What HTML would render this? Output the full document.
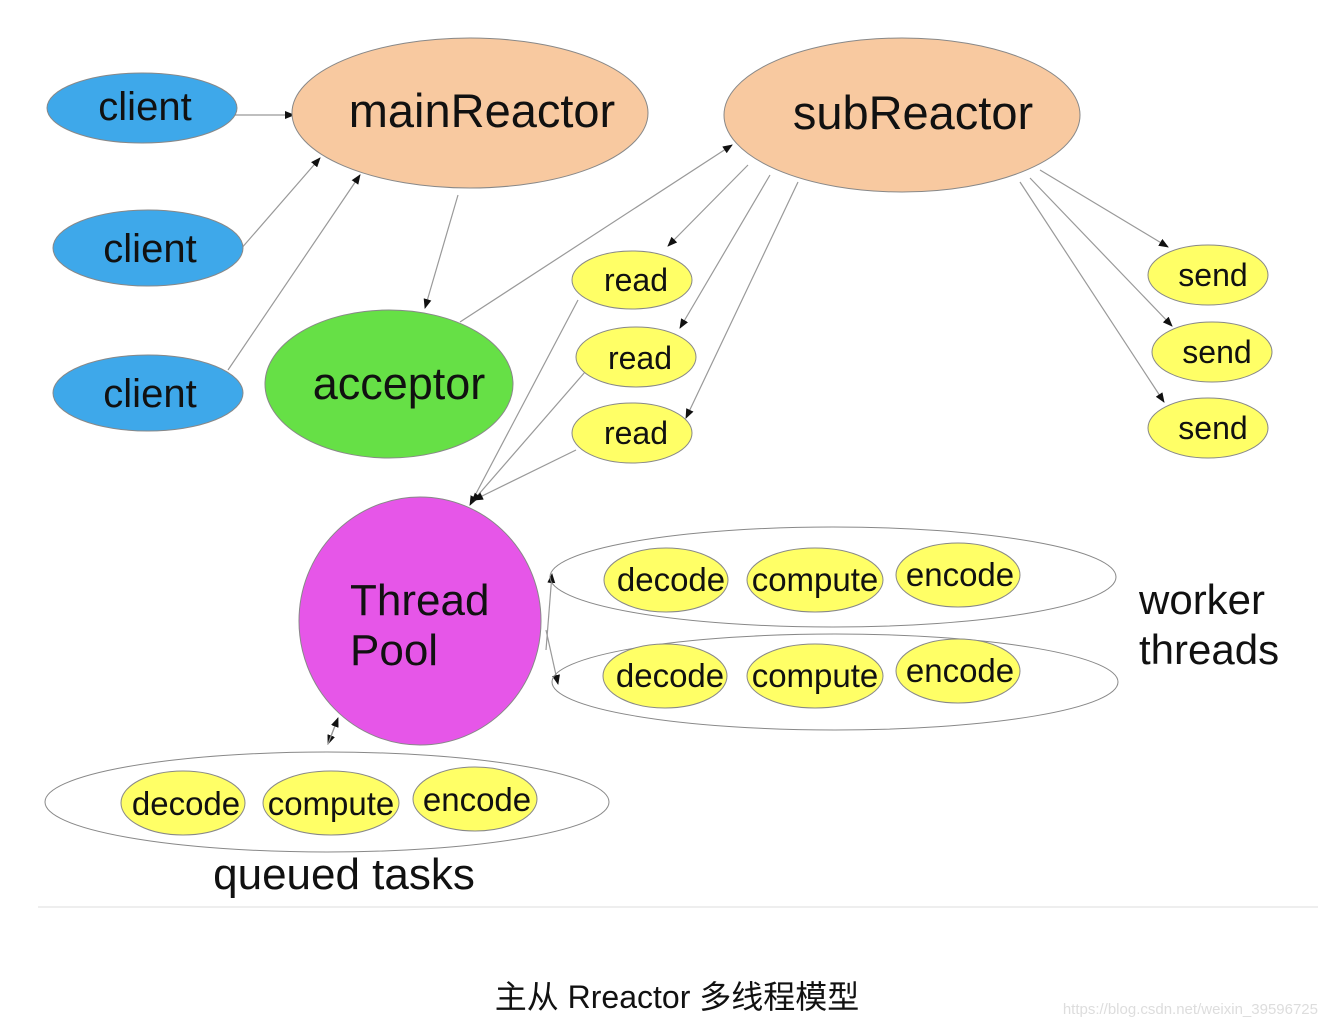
<!DOCTYPE html>
<html><head><meta charset="utf-8"><style>
html,body{margin:0;padding:0;background:#fff;}
svg{display:block;}
text{font-family:"Liberation Sans","DejaVu Sans",sans-serif;fill:#111;}
</style></head><body>
<svg width="1326" height="1026" viewBox="0 0 1326 1026" xmlns="http://www.w3.org/2000/svg">
<defs><marker id="a" markerWidth="10" markerHeight="8" refX="9" refY="4" orient="auto" markerUnits="userSpaceOnUse"><path d="M0,0 L10,4 L0,8 z" fill="#111"/></marker></defs>
<g stroke="#999" stroke-width="1.2" fill="none" marker-end="url(#a)">
<line x1="234" y1="115" x2="294" y2="115"/>
<line x1="240" y1="250" x2="320" y2="158"/>
<line x1="228" y1="370" x2="360" y2="175"/>
<line x1="458" y1="195" x2="425" y2="308"/>
<line x1="460" y1="322" x2="732" y2="145"/>
<line x1="748" y1="165" x2="668" y2="246"/>
<line x1="770" y1="175" x2="680" y2="328"/>
<line x1="798" y1="182" x2="686" y2="418"/>
<line x1="1040" y1="170" x2="1168" y2="247"/>
<line x1="1030" y1="178" x2="1172" y2="326"/>
<line x1="1020" y1="182" x2="1164" y2="402"/>
<line x1="578" y1="300" x2="470" y2="505"/>
<line x1="585" y1="372" x2="472" y2="502"/>
<line x1="576" y1="450" x2="474" y2="500"/>
<line x1="546" y1="650" x2="552" y2="574"/>
<line x1="546" y1="630" x2="558" y2="684"/>
<line x1="338" y1="718" x2="328" y2="744"/>
<line x1="328" y1="744" x2="338" y2="718"/>
</g>
<g stroke="#888" stroke-width="1">
<ellipse cx="142" cy="108" rx="95" ry="35" fill="#3ea8ea"/>
<ellipse cx="148" cy="248" rx="95" ry="38" fill="#3ea8ea"/>
<ellipse cx="148" cy="393" rx="95" ry="38" fill="#3ea8ea"/>
<ellipse cx="470" cy="113" rx="178" ry="75" fill="#f8c9a0"/>
<ellipse cx="902" cy="115" rx="178" ry="77" fill="#f8c9a0"/>
<ellipse cx="389" cy="384" rx="124" ry="74" fill="#66e046"/>
<ellipse cx="632" cy="280" rx="60" ry="29" fill="#ffff66"/>
<ellipse cx="636" cy="357" rx="60" ry="30" fill="#ffff66"/>
<ellipse cx="632" cy="433" rx="60" ry="30" fill="#ffff66"/>
<ellipse cx="1208" cy="275" rx="60" ry="30" fill="#ffff66"/>
<ellipse cx="1212" cy="352" rx="60" ry="30" fill="#ffff66"/>
<ellipse cx="1208" cy="428" rx="60" ry="30" fill="#ffff66"/>
<ellipse cx="420" cy="621" rx="121" ry="124" fill="#e656e8"/>
<ellipse cx="833" cy="577" rx="283" ry="50" fill="none"/>
<ellipse cx="835" cy="682" rx="283" ry="48" fill="none"/>
<ellipse cx="327" cy="802" rx="282" ry="50" fill="none"/>
<ellipse cx="666" cy="580" rx="62" ry="32" fill="#ffff66"/>
<ellipse cx="815" cy="580" rx="68" ry="32" fill="#ffff66"/>
<ellipse cx="958" cy="575" rx="62" ry="32" fill="#ffff66"/>
<ellipse cx="665" cy="676" rx="62" ry="32" fill="#ffff66"/>
<ellipse cx="815" cy="676" rx="68" ry="32" fill="#ffff66"/>
<ellipse cx="958" cy="671" rx="62" ry="32" fill="#ffff66"/>
<ellipse cx="183" cy="803" rx="62" ry="32" fill="#ffff66"/>
<ellipse cx="331" cy="803" rx="68" ry="32" fill="#ffff66"/>
<ellipse cx="475" cy="799" rx="62" ry="32" fill="#ffff66"/>
</g>
<g text-anchor="middle">
<text x="145" y="120" font-size="40">client</text>
<text x="150" y="262" font-size="40">client</text>
<text x="150" y="407" font-size="40">client</text>
<text x="482" y="127" font-size="47">mainReactor</text>
<text x="913" y="129" font-size="47">subReactor</text>
<text x="399" y="399" font-size="45">acceptor</text>
<text x="636" y="291" font-size="32">read</text>
<text x="640" y="369" font-size="32">read</text>
<text x="636" y="444" font-size="32">read</text>
<text x="1213" y="286" font-size="32">send</text>
<text x="1217" y="363" font-size="32">send</text>
<text x="1213" y="439" font-size="32">send</text>
<text x="671" y="591" font-size="33">decode</text>
<text x="815" y="591" font-size="33">compute</text>
<text x="960" y="586" font-size="33">encode</text>
<text x="670" y="687" font-size="33">decode</text>
<text x="815" y="687" font-size="33">compute</text>
<text x="960" y="682" font-size="33">encode</text>
<text x="186" y="815" font-size="33">decode</text>
<text x="331" y="815" font-size="33">compute</text>
<text x="477" y="811" font-size="33">encode</text>
<text x="344" y="889" font-size="44">queued tasks</text>
</g>
<text x="350" y="615" font-size="44">Thread</text>
<text x="350" y="665" font-size="44">Pool</text>
<text x="1139" y="614" font-size="42">worker</text>
<text x="1139" y="664" font-size="42">threads</text>
<line x1="38" y1="907" x2="1318" y2="907" stroke="#eee" stroke-width="2"/>
<text x="677" y="1008" font-size="32" text-anchor="middle" style="font-family:'Liberation Sans','Noto Sans CJK SC',sans-serif" fill="#222">主从 Rreactor 多线程模型</text>
<text x="1318" y="1014" font-size="15" text-anchor="end" style="fill:#ddd">https://blog.csdn.net/weixin_39596725</text>
</svg>
</body></html>
